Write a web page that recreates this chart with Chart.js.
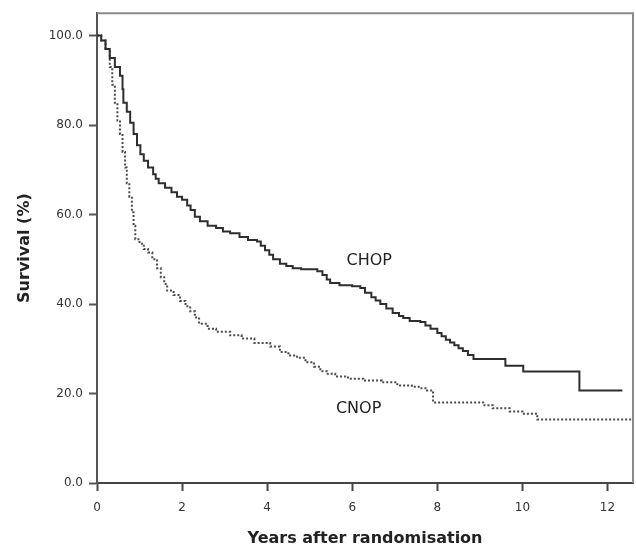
<!DOCTYPE html>
<html>
<head>
<meta charset="utf-8">
<script src="https://cdn.jsdelivr.net/npm/chart.js@4"></script>
<style>
    body { margin: 0; background: #fff; }
    #wrap { width: 636px; height: 548px; }
</style>
</head>
<body>
<div id="wrap"><canvas id="survivalChart"></canvas></div>
<script>
// Kaplan-Meier steps: survival drops to value[i] at years[i]
const chopYears = [0, 0.1, 0.2, 0.3, 0.42, 0.54, 0.6, 0.62, 0.7, 0.78, 0.86, 0.94, 1.02, 1.1, 1.2, 1.32, 1.38, 1.45, 1.6, 1.75, 1.88,
    2.0, 2.12, 2.2, 2.3, 2.42, 2.6, 2.8, 2.96, 3.13, 3.35, 3.55, 3.76, 3.85, 3.95, 4.05, 4.14, 4.3, 4.45, 4.6, 4.8,
    5.18, 5.3, 5.4, 5.48, 5.7, 6.0, 6.19, 6.3, 6.45, 6.55, 6.66, 6.8, 6.95, 7.1, 7.2, 7.35, 7.6, 7.72, 7.84, 8.0, 8.1, 8.2,
    8.3, 8.4, 8.5, 8.6, 8.72, 8.85, 9.6, 10.02, 11.34, 12.35]
const chopSurvival = [100, 98.9, 97, 95, 93, 91, 88, 85, 83, 80.5, 78, 75.5, 73.5, 72, 70.5, 69, 68, 67, 66, 65, 64,
    63.3, 62, 61, 59.5, 58.5, 57.5, 57, 56.2, 55.8, 55, 54.3, 54, 53, 52, 51, 50, 49, 48.5, 48, 47.8,
    47.3, 46.5, 45.5, 44.7, 44.2, 44, 43.6, 42.5, 41.5, 40.8, 40, 39, 38, 37.3, 36.9, 36.2, 36, 35.2, 34.5, 33.5, 32.8, 32,
    31.4, 30.8, 30.1, 29.5, 28.6, 27.7, 26.2, 24.9, 20.7, 20.7]

const cnopYears = [0, 0.1, 0.2, 0.3, 0.36, 0.42, 0.48, 0.54, 0.6, 0.66, 0.7, 0.76, 0.82, 0.86, 0.9, 1.0, 1.1, 1.2, 1.3, 1.41,
    1.5, 1.58, 1.65, 1.8, 1.95, 2.08, 2.19, 2.3, 2.4, 2.6, 2.8, 3.13, 3.4, 3.7, 4.07, 4.3, 4.5, 4.7, 4.9, 5.1,
    5.25, 5.4, 5.6, 5.9, 6.26, 6.7, 7.06, 7.4, 7.6, 7.76, 7.9, 9.08, 9.3, 9.7, 10.0, 10.35, 12.6]
const cnopSurvival = [100, 98.9, 97, 93, 89, 85, 81, 78, 74, 70.5, 67, 64, 60.5, 57.5, 54.5, 53.5, 52.3, 51.5, 50, 48,
    46, 44.5, 43, 42, 40.7, 39.5, 38.4, 37, 35.6, 34.5, 33.8, 33, 32.3, 31.3, 30.5, 29.3, 28.5, 28, 27, 26,
    25, 24.4, 23.8, 23.3, 22.9, 22.5, 21.8, 21.5, 21.2, 20.7, 18, 17.4, 16.7, 16, 15.5, 14.2, 14.2]

const xTicks = [0, 2, 4, 6, 8, 10, 12]
const yTicks = [0, 20, 40, 60, 80, 100]

// group labels, placed in data units
const groupLabels = [
    {text: 'CHOP', years: 6.4, survival: 49.6},
    {text: 'CNOP', years: 6.15, survival: 16.5},
]

Chart.defaults.font.family = "'DejaVu Sans', sans-serif"

function toPoints(xs, ys) {
    return xs.map((x, i) => ({x, y: ys[i]}))
}

const frameAndLabels = {
    id: 'frameAndLabels',
    afterDraw(chart) {
        const {ctx, chartArea: area, scales} = chart
        ctx.save()
        ctx.strokeStyle = '#8a8a8a'
        ctx.lineWidth = 2
        ctx.beginPath()
        ctx.moveTo(area.left, area.top)
        ctx.lineTo(area.right, area.top)
        ctx.lineTo(area.right, area.bottom)
        ctx.stroke()

        ctx.fillStyle = '#222'
        ctx.font = "16px 'DejaVu Sans', sans-serif"
        ctx.textAlign = 'center'
        ctx.textBaseline = 'middle'
        groupLabels.forEach(label => {
            ctx.fillText(label.text, scales.x.getPixelForValue(label.years), scales.y.getPixelForValue(label.survival))
        })
        ctx.restore()
    },
}

const ctx = document.getElementById('survivalChart').getContext('2d')
new Chart(ctx, {
    type: 'line',
    plugins: [frameAndLabels],
    data: {
        datasets: [
            {
                label: 'CHOP',
                data: toPoints(chopYears, chopSurvival),
                borderColor: '#2e2e2e',
                borderWidth: 2,
                stepped: 'before',
                pointRadius: 0,
                fill: false,
            },
            {
                label: 'CNOP',
                data: toPoints(cnopYears, cnopSurvival),
                borderColor: '#4a4a4a',
                borderWidth: 2,
                borderDash: [2, 2],
                stepped: 'before',
                pointRadius: 0,
                fill: false,
            },
        ],
    },
    options: {
        responsive: true,
        maintainAspectRatio: false,
        animation: false,
        layout: {padding: {top: 10, right: 3, left: 0, bottom: 0}},
        plugins: {
            legend: {display: false},
            tooltip: {enabled: false},
        },
        scales: {
            x: {
                type: 'linear',
                min: 0,
                max: 12.6,
                afterBuildTicks: scale => { scale.ticks = xTicks.map(value => ({value})) },
                afterFit: scale => { scale.height = 65 },
                ticks: {color: '#333', font: {size: 12}, padding: 10, maxRotation: 0},
                grid: {drawOnChartArea: false, drawTicks: true, tickLength: 8, tickWidth: 2, tickColor: '#444'},
                border: {color: '#444', width: 2},
                title: {
                    display: true,
                    text: 'Years after randomisation',
                    color: '#222',
                    font: {size: 16, weight: 'bold'},
                    padding: {top: 0, bottom: 0},
                },
            },
            y: {
                min: 0,
                max: 105,
                afterBuildTicks: scale => { scale.ticks = yTicks.map(value => ({value})) },
                afterFit: scale => { scale.width = 97 },
                ticks: {color: '#333', font: {size: 12}, padding: 6, callback: value => Number(value).toFixed(1)},
                grid: {drawOnChartArea: false, drawTicks: true, tickLength: 8, tickWidth: 2, tickColor: '#555'},
                border: {color: '#555', width: 2},
                title: {
                    display: true,
                    text: 'Survival (%)',
                    color: '#222',
                    font: {size: 16, weight: 'bold'},
                    padding: {top: 15, bottom: 0},
                },
            },
        },
    },
})
</script>
</body>
</html>
